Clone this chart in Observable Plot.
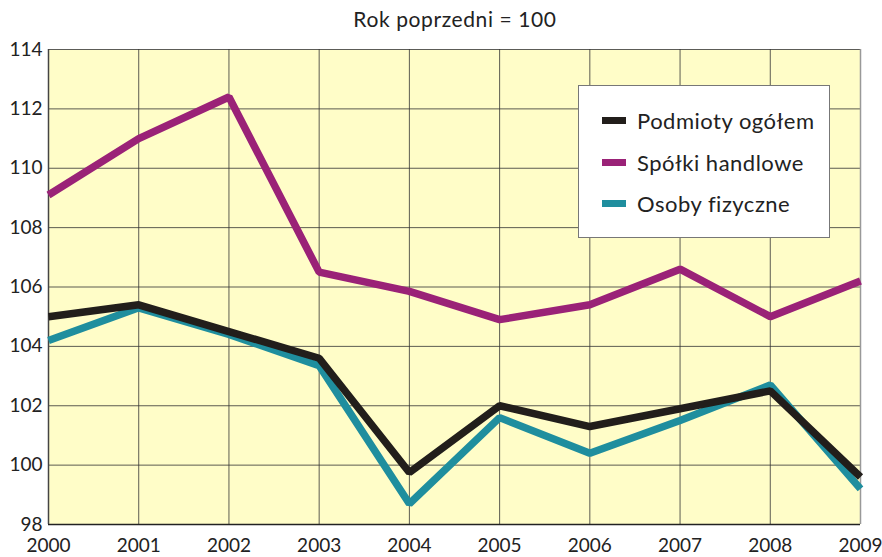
<!DOCTYPE html>
<html>
<head>
<meta charset="utf-8">
<script src="https://cdn.jsdelivr.net/npm/d3@7"></script>
<script src="https://cdn.jsdelivr.net/npm/@observablehq/plot@0.6"></script>
<style>
  html, body { margin: 0; padding: 0; background: #fff; }
  #wrap { position: relative; width: 882px; height: 557px; font-family: Lato, "Noto Sans", sans-serif; }
  #title { position: absolute; left: 0; width: 910px; top: 6px; text-align: center; font-size: 21px; letter-spacing: 0.6px; color: #222; }
  #legend { position: absolute; left: 578px; top: 85px; width: 252px; height: 153px; background: #fff; border: 1px solid #777; box-sizing: border-box; }
  .item { position: absolute; left: 23px; display: flex; align-items: center; font-size: 22px; letter-spacing: 0.5px; color: #222; }
  .sw { width: 24px; height: 7px; margin-right: 11px; }
</style>
</head>
<body>
<div id="wrap">
  <div id="chart"></div>
  <div id="title">Rok poprzedni = 100</div>
  <div id="legend"></div>
</div>
<script>
const years = [2000, 2001, 2002, 2003, 2004, 2005, 2006, 2007, 2008, 2009];
const seriesNames = ["Podmioty ogółem", "Spółki handlowe", "Osoby fizyczne"];
const podmioty = [105.0, 105.4, 104.5, 103.6, 99.75, 102.0, 101.3, 101.9, 102.5, 99.6];
const spolki   = [109.1, 111.0, 112.4, 106.5, 105.85, 104.9, 105.4, 106.6, 105.0, 106.2];
const osoby    = [104.2, 105.3, 104.4, 103.35, 98.7, 101.6, 100.4, 101.5, 102.7, 99.2];
const yTicks = [98, 100, 102, 104, 106, 108, 110, 112, 114];
const colors = ["#221e1b", "#9a2277", "#1f8e9e"];

const values = [podmioty, spolki, osoby];
const data = [];
// draw order: Spółki, Osoby, then Podmioty on top
[1, 2, 0].forEach(si => {
  years.forEach((y, i) => data.push({series: seriesNames[si], year: y, value: values[si][i]}));
});

const chart = Plot.plot({
  width: 882,
  height: 557,
  marginTop: 49,
  marginBottom: 33,
  marginLeft: 48,
  marginRight: 22,
  style: { fontFamily: "Lato, 'Noto Sans', sans-serif", background: "transparent" },
  x: { domain: [2000, 2009], ticks: years, tickFormat: d => String(d), label: null },
  y: { domain: [98, 114], ticks: yTicks, label: null },
  color: { domain: seriesNames, range: colors },
  marks: [
    Plot.frame({fill: "#fffdc8", stroke: null}),
    Plot.gridX(years, {stroke: "#333", strokeOpacity: 0.8, strokeWidth: 1}),
    Plot.gridY(yTicks, {stroke: "#333", strokeOpacity: 0.8, strokeWidth: 1}),
    Plot.ruleY([98], {stroke: "#222", strokeWidth: 1.5}),
    Plot.ruleX([2000], {stroke: "#444", strokeWidth: 1.5}),
    Plot.ruleX([2009], {stroke: "#999", strokeWidth: 1.5}),
    Plot.line(data, {x: "year", y: "value", z: "series", stroke: "series", strokeWidth: 7.5, strokeLinejoin: "miter", strokeLinecap: "butt", sort: null}),
    Plot.axisY(yTicks, {tickSize: 0, tickPadding: 6, fontSize: 19, fill: "#222", label: null, style: {letterSpacing: "-1px"}}),
    Plot.axisX(years, {tickSize: 0, tickPadding: 14, fontSize: 19, fill: "#222", label: null, tickFormat: d => String(d), style: {letterSpacing: "-1px"}})
  ]
});
document.getElementById("chart").appendChild(chart);

const legend = document.getElementById("legend");
const tops = [21, 63, 104];
seriesNames.forEach((name, i) => {
  const item = document.createElement("div");
  item.className = "item";
  item.style.top = (tops[i]) + "px";
  const sw = document.createElement("div");
  sw.className = "sw";
  sw.style.background = colors[i];
  const tx = document.createElement("span");
  tx.textContent = name;
  item.appendChild(sw);
  item.appendChild(tx);
  legend.appendChild(item);
});
</script>
</body>
</html>
